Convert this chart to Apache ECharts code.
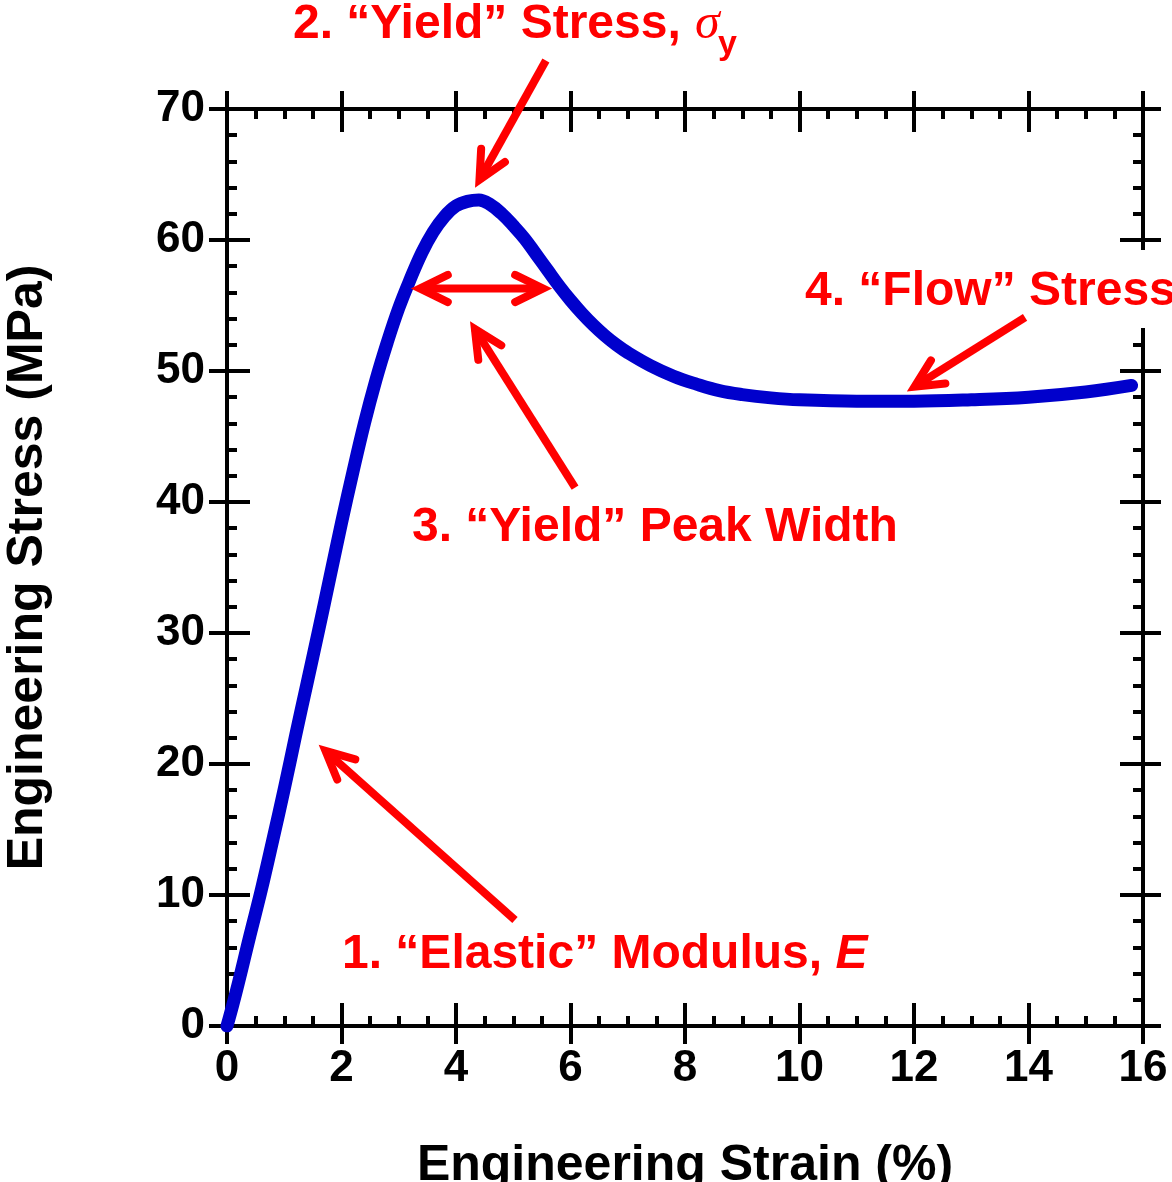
<!DOCTYPE html>
<html lang="en">
<head>
    <meta charset="UTF-8">
    <title>Engineering Stress-Strain</title>
    <script src="https://cdn.jsdelivr.net/npm/echarts@6/dist/echarts.min.js"></script>
    <style>
        html, body {margin: 0; padding: 0; background: #fff;}
    </style>
</head>
<body>
<div id="main" style="width:1172px;height:1182px;"></div>
<script type="text/javascript">
    // curve (strain %, stress MPa)
    var strain = [0, 0.1, 0.2, 0.3, 0.4, 0.6, 0.8, 1.0, 1.2, 1.4, 1.6, 1.8, 2.0, 2.2, 2.4, 2.6, 2.8, 3.0,
        3.2, 3.4, 3.6, 3.8, 4.0, 4.2, 4.4, 4.6, 4.8, 5.0, 5.2, 5.4, 5.6, 5.8, 6.0, 6.2, 6.4, 6.6, 6.8,
        7.0, 7.4, 7.8, 8.2, 8.6, 9.0, 9.5, 10, 11, 12, 13, 14, 15, 15.8];
    var stress = [0, 1.6, 3.3, 5.1, 6.9, 10.4, 14.2, 18.1, 22.2, 26.2, 30.2, 34.3, 38.4, 42.3, 46.0, 49.3, 52.2, 54.8,
        57.0, 59.0, 60.6, 61.8, 62.6, 62.95, 63.05, 62.7, 62.0, 61.1, 60.1, 58.9, 57.7, 56.5, 55.4, 54.4, 53.5, 52.7, 52.0,
        51.4, 50.4, 49.6, 49.0, 48.5, 48.2, 47.95, 47.8, 47.7, 47.7, 47.8, 48.0, 48.4, 48.9];

    var xTicks = [0, 2, 4, 6, 8, 10, 12, 14, 16];
    var yTicks = [0, 10, 20, 30, 40, 50, 60, 70];

    // annotation arrows in data coordinates: [tailX, tailY, tipX, tipY, doubleHeaded]
    var arrowTail = [[5.03, 8.1], [5.57, 73.7], [3.37, 56.3], [6.08, 41.1], [13.94, 54.1]];
    var arrowTip = [[1.72, 21.0], [4.41, 64.6], [5.52, 56.3], [4.33, 53.2], [12.01, 48.8]];
    var arrowBoth = [0, 0, 1, 0, 0];

    var curve = strain.map(function (s, i) { return [s, stress[i]]; });
    var arrows = arrowTail.map(function (t, i) {
        return [t[0], t[1], arrowTip[i][0], arrowTip[i][1], arrowBoth[i]];
    });

    var RED = '#ff0000';
    var FONT = '"Liberation Sans", Arial, sans-serif';

    function head(tip, from) {
        var dx = from[0] - tip[0], dy = from[1] - tip[1];
        var len = Math.sqrt(dx * dx + dy * dy);
        dx /= len; dy /= len;
        var a = 26 * Math.PI / 180, L = 31;
        var p1 = [tip[0] + L * (dx * Math.cos(a) - dy * Math.sin(a)), tip[1] + L * (dx * Math.sin(a) + dy * Math.cos(a))];
        var p2 = [tip[0] + L * (dx * Math.cos(-a) - dy * Math.sin(-a)), tip[1] + L * (dx * Math.sin(-a) + dy * Math.cos(-a))];
        return {
            type: 'polyline',
            shape: {points: [p1, tip, p2]},
            style: {stroke: RED, lineWidth: 8, fill: null, lineCap: 'round', lineJoin: 'miter'}
        };
    }

    function renderArrow(params, api) {
        var a = api.coord([api.value(0), api.value(1)]);
        var b = api.coord([api.value(2), api.value(3)]);
        var kids = [{
            type: 'line',
            shape: {x1: a[0], y1: a[1], x2: b[0], y2: b[1]},
            style: {stroke: RED, lineWidth: 8, lineCap: 'butt'}
        }, head(b, a)];
        if (api.value(4)) kids.push(head(a, b));
        return {type: 'group', children: kids};
    }

    var lineBlack = {color: '#000', width: 4};

    function xAx(pos, inside, withLabel) {
        return {
            type: 'value', position: pos, min: 0, max: 16, interval: 2,
            axisLine: {show: !inside, onZero: false, lineStyle: lineBlack},
            axisTick: {show: true, inside: inside, length: inside ? 23 : 18, lineStyle: lineBlack},
            minorTick: {show: inside, splitNumber: 4, length: 10, lineStyle: lineBlack},
            splitLine: {show: false},
            axisLabel: {
                show: withLabel, margin: 21, color: '#000', fontFamily: FONT, fontWeight: 'bold', fontSize: 44,
                customValues: xTicks
            },
            name: withLabel ? 'Engineering Strain (%)' : '',
            nameLocation: 'middle', nameGap: 115,
            nameTextStyle: {color: '#000', fontFamily: FONT, fontWeight: 'bold', fontSize: 50}
        };
    }

    function yAx(pos, inside, withLabel) {
        return {
            type: 'value', position: pos, min: 0, max: 70, interval: 10,
            axisLine: {show: !inside, onZero: false, lineStyle: lineBlack},
            axisTick: {show: true, inside: inside, length: inside ? 23 : 18, lineStyle: lineBlack},
            minorTick: {show: inside, splitNumber: 5, length: 10, lineStyle: lineBlack},
            splitLine: {show: false},
            axisLabel: {
                show: withLabel, margin: 22, color: '#000', fontFamily: FONT, fontWeight: 'bold', fontSize: 44,
                customValues: yTicks
            },
            name: withLabel ? 'Engineering Stress (MPa)' : '',
            nameLocation: 'middle', nameGap: 174,
            nameTextStyle: {color: '#000', fontFamily: FONT, fontWeight: 'bold', fontSize: 50}
        };
    }

    var myChart = echarts.init(document.getElementById('main'));
    var option = {
        animation: false,
        backgroundColor: '#fff',
        grid: {left: 227, right: 29, top: 109, bottom: 156, containLabel: false, outerBoundsMode: 'none'},
        xAxis: [xAx('bottom', false, true), xAx('bottom', true, false), xAx('top', false, false), xAx('top', true, false)],
        yAxis: [yAx('left', false, true), yAx('left', true, false), yAx('right', false, false), yAx('right', true, false)],
        series: [
            {
                type: 'line',
                data: curve,
                showSymbol: false,
                smooth: 0.4,
                lineStyle: {color: '#0000cc', width: 13, cap: 'round', join: 'round'},
                z: 3
            },
            {
                type: 'custom',
                data: arrows,
                renderItem: renderArrow,
                clip: false,
                z: 5
            }
        ],
        graphic: [
            // white box behind the "Flow" label that breaks the right axis
            {type: 'rect', z: 50, shape: {x: 1100, y: 250, width: 72, height: 78}, style: {fill: '#fff'}},
            {
                type: 'text', z: 51, x: 805, y: 292,
                style: {text: '4. “Flow” Stress', fill: RED, font: 'bold 48px ' + FONT, textVerticalAlign: 'middle'}
            },
            {
                type: 'text', z: 51, x: 293, y: 25,
                style: {text: '2. “Yield” Stress,', fill: RED, font: 'bold 48px ' + FONT, textVerticalAlign: 'middle'}
            },
            {
                type: 'text', z: 51, x: 695, y: 25,
                style: {text: 'σ', fill: RED, font: 'italic 50px "Liberation Serif", serif', textVerticalAlign: 'middle'}
            },
            {
                type: 'text', z: 51, x: 718, y: 45,
                style: {text: 'y', fill: RED, font: 'bold 34px ' + FONT, textVerticalAlign: 'middle'}
            },
            {
                type: 'text', z: 51, x: 412, y: 528,
                style: {text: '3. “Yield” Peak Width', fill: RED, font: 'bold 48px ' + FONT, textVerticalAlign: 'middle'}
            },
            {
                type: 'text', z: 51, x: 342, y: 955,
                style: {
                    text: '{a|1. “Elastic” Modulus, }{e|E}', fill: RED, textVerticalAlign: 'middle',
                    rich: {
                        a: {fontFamily: FONT, fontWeight: 'bold', fontSize: 48, fill: RED},
                        e: {fontFamily: FONT, fontWeight: 'bold', fontStyle: 'italic', fontSize: 48, fill: RED}
                    }
                }
            }
        ]
    };
    myChart.setOption(option);
</script>
</body>
</html>
